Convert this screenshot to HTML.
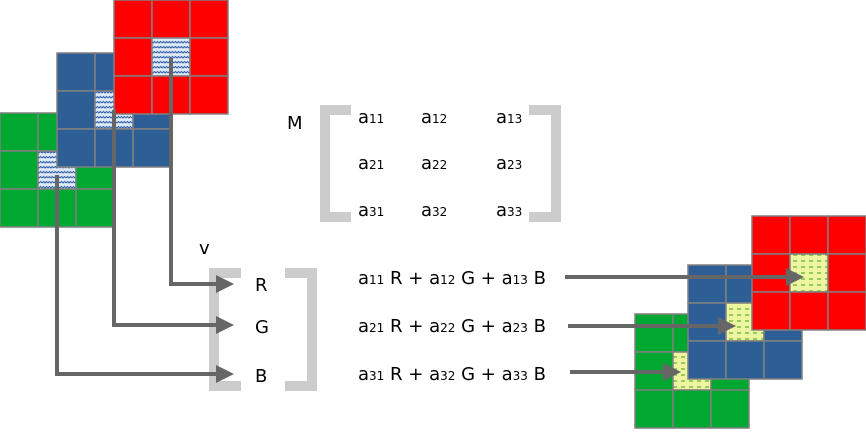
<!DOCTYPE html>
<html><head><meta charset="utf-8"><style>
html,body{margin:0;padding:0;background:#fff;width:866px;height:435px;overflow:hidden}
svg text{font-family:"DejaVu Sans","Liberation Sans",sans-serif;fill:#000}
</style></head><body>
<svg width="866" height="435" viewBox="0 0 866 435">
<defs>
<pattern id="wave" width="6" height="5" patternUnits="userSpaceOnUse">
<rect width="6" height="5" fill="#dfe9f5"/>
<path d="M0 3 L1.5 1.5 L3 3 L4.5 1.5 L6 3" stroke="#2f5fa8" stroke-width="1" fill="none"/>
</pattern>
<pattern id="dash" width="8" height="6" patternUnits="userSpaceOnUse">
<rect width="8" height="6" fill="#eef5a0"/>
<line x1="1" y1="3" x2="5" y2="3" stroke="#5cb030" stroke-width="1.2"/>
</pattern>
<marker id="ah" markerWidth="4.5" markerHeight="4.5" refX="3" refY="2.25" orient="auto" markerUnits="strokeWidth">
<path d="M0 0 L4.5 2.25 L0 4.5z" fill="#666"/>
</marker>
</defs>
<g id="grids"></g>
<g>
<text x="287" y="129" font-size="18">M</text>
<path d="M351 110 H325 V217 H351" stroke="#ccc" stroke-width="10" fill="none"/>
<path d="M529 110 H556 V217 H529" stroke="#ccc" stroke-width="10" fill="none"/>
</g>
<g id="entries"></g>
<g>
<text x="199" y="254" font-size="18">v</text>
<path d="M241 273 H214 V386 H241" stroke="#ccc" stroke-width="10" fill="none"/>
<path d="M285 273 H312 V386 H285" stroke="#ccc" stroke-width="10" fill="none"/>
<text x="255" y="291" font-size="18">R</text>
<text x="255" y="333" font-size="18">G</text>
<text x="255" y="382" font-size="18">B</text>
</g>
<g stroke="#666" stroke-width="4" fill="none">
<path d="M171 58 V284 H228" marker-end="url(#ah)"/>
<path d="M114 110 V325 H228" marker-end="url(#ah)"/>
<path d="M57 175 V374 H228" marker-end="url(#ah)"/>
<path d="M565 277 H798" marker-end="url(#ah)"/>
<path d="M568 326 H730" marker-end="url(#ah)"/>
<path d="M570 372 H675" marker-end="url(#ah)"/>
</g>
<g font-size="18">
<text x="358" y="284">a<tspan font-size="12">11</tspan> R + a<tspan font-size="12">12</tspan> G + a<tspan font-size="12">13</tspan> B</text>
<text x="358" y="332">a<tspan font-size="12">21</tspan> R + a<tspan font-size="12">22</tspan> G + a<tspan font-size="12">23</tspan> B</text>
<text x="358" y="380">a<tspan font-size="12">31</tspan> R + a<tspan font-size="12">32</tspan> G + a<tspan font-size="12">33</tspan> B</text>
</g>
</svg>
<script>
const NS='http://www.w3.org/2000/svg';
const grids=document.getElementById('grids');
const gridList=[
 ['green-input-grid',0,113,'#00a832','url(#wave)'],
 ['blue-input-grid',57,53,'#2d5f96','url(#wave)'],
 ['red-input-grid',114,0,'#ff0000','url(#wave)'],
 ['green-output-grid',635,314,'#00a832','url(#dash)'],
 ['blue-output-grid',688,265,'#2d5f96','url(#dash)'],
 ['red-output-grid',752,216,'#ff0000','url(#dash)']
];
gridList.forEach(function(g){
 const grp=document.createElementNS(NS,'g');
 
 
 for(let r=0;r<3;r++)for(let c=0;c<3;c++){
  const rc=document.createElementNS(NS,'rect');
  rc.setAttribute('x',g[1]+c*38);rc.setAttribute('y',g[2]+r*38);
  rc.setAttribute('width',38);rc.setAttribute('height',38);
  rc.setAttribute('fill',(r==1&&c==1)?g[4]:g[3]);
  rc.setAttribute('stroke','#808080');rc.setAttribute('stroke-width','1.5');
  
  
  grp.appendChild(rc);
 }
 grids.appendChild(grp);
});
const ent=document.getElementById('entries');
const cols=[358,421,496], rows=[123,169,216];
for(let i=0;i<3;i++)for(let j=0;j<3;j++){
 const t=document.createElementNS(NS,'text');
 t.setAttribute('x',cols[j]);t.setAttribute('y',rows[i]);t.setAttribute('font-size','18');
 t.innerHTML='a<tspan font-size="12">'+(i+1)+''+(j+1)+'</tspan>';
 
 
 ent.appendChild(t);
}
</script>
</body></html>
